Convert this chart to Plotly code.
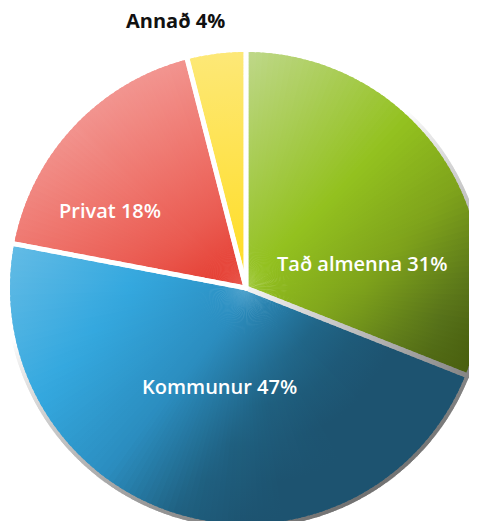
import numpy as np
import plotly.graph_objects as go

# ---- data ----
categories = ["Tað almenna", "Kommunur", "Privat", "Annað"]
shares = [31, 47, 18, 4]

# ---- styling (not data) ----
W, H = 477, 521
OFF = 8  # page body margin
CX, CY, R = 246, 288, 236
# gradient: direction vector in pixel space, stops of (t, colour) with t = dx*x + dy*y
GRAD = {
    "Tað almenna": ((1.0, 1.0), [(300, "#bfd88a"), (530, "#93c11f"), (650, "#7ea21b"), (760, "#57721a"), (820, "#4a600f")]),
    "Kommunur": ((0.775, 0.632), [(166, "#62bbe5"), (280, "#34a8df"), (380, "#2b8dbf"), (460, "#1f6080"), (520, "#1d5370"), (640, "#1d5370")]),
    "Privat": ((0.5, 0.87), [(140, "#f29590"), (220, "#ef7870"), (300, "#ea5a50"), (365, "#e4392d")]),
    "Annað": ((0.0, 1.0), [(50, "#fde878"), (290, "#ffdc1e")]),
}
LABEL_POS = {"Tað almenna": (362, 263), "Kommunur": (219, 386), "Privat": (110, 210), "Annað": (175, 20)}


def hex2rgb(h):
    h = h.lstrip("#")
    return np.array([int(h[i:i + 2], 16) for i in (0, 2, 4)], dtype=float)


def rgb2hex(c):
    c = np.clip(np.round(c), 0, 255).astype(int)
    return "#%02x%02x%02x" % tuple(c)


def colour_at(name, x, y):
    (dx, dy), stops = GRAD[name]
    t = dx * x + dy * y
    ts = [s[0] for s in stops]
    cs = [hex2rgb(s[1]) for s in stops]
    if t <= ts[0]:
        return rgb2hex(cs[0])
    if t >= ts[-1]:
        return rgb2hex(cs[-1])
    for i in range(len(ts) - 1):
        if ts[i] <= t <= ts[i + 1]:
            f = (t - ts[i]) / (ts[i + 1] - ts[i])
            return rgb2hex(cs[i] * (1 - f) + cs[i + 1] * f)


def pt(theta_deg, r):
    th = np.radians(theta_deg)
    return CX + r * np.sin(th), CY - r * np.cos(th)


fig = go.Figure()

# outer shadow rim
total = float(sum(shares))
rim_th = np.arange(0, 360, 0.4)
rim_x, rim_y, rim_c = [], [], []
for th in rim_th:
    x, y = pt(th, R + 1.5)
    w = (np.cos(np.radians(th - 150)) + 0.3) / 1.3
    w = max(0.0, min(1.0, w))
    g = 255 - (w ** 0.8) * 140
    rim_x.append(x)
    rim_y.append(y)
    rim_c.append(rgb2hex(np.array([g, g, g])))
fig.add_trace(go.Scatter(x=rim_x, y=rim_y, mode="markers",
                         marker=dict(size=5, color=rim_c, line=dict(width=0)),
                         hoverinfo="skip", showlegend=False))

# slices as many thin wedges, each with its own linear gradient
start = 0.0
bounds = []
for name, v in zip(categories, shares):
    span = v / total * 360.0
    a0, a1 = start, start + span
    bounds.append(a0)
    n = max(2, int(np.ceil(span / 1.5)))
    edges = np.linspace(a0, a1, n + 1)
    for i in range(n):
        lo = max(a0, edges[i] - 0.5)
        hi = min(a1, edges[i + 1] + 0.5)
        arc = np.linspace(lo, hi, 6)
        xs = [CX] + [pt(a, R)[0] for a in arc] + [CX]
        ys = [CY] + [pt(a, R)[1] for a in arc] + [CY]
        mid = np.radians((edges[i] + edges[i + 1]) / 2)
        ddx, ddy = np.sin(mid), -np.cos(mid)
        horiz = abs(ddx) >= abs(ddy)
        samples = np.linspace(0, 1, 7)
        coords, cols = [], []
        for s in samples:
            px, py = CX + s * R * ddx, CY + s * R * ddy
            coords.append(px if horiz else py)
            cols.append(colour_at(name, px, py))
        cmin, cmax = min(coords), max(coords)
        cs = sorted([((c - cmin) / (cmax - cmin), col) for c, col in zip(coords, cols)])
        cs[0] = (0.0, cs[0][1])
        cs[-1] = (1.0, cs[-1][1])
        fig.add_trace(go.Scatter(
            x=xs, y=ys, mode="lines", fill="toself",
            line=dict(width=0),
            fillgradient=dict(type="horizontal" if horiz else "vertical",
                              colorscale=[[c[0], c[1]] for c in cs],
                              start=cmin, stop=cmax),
            hoverinfo="skip", showlegend=False))
    start = a1

# separators between slices
for b in bounds:
    bx, by, bc = [], [], []
    for s in np.linspace(0, 1.01, 160):
        x, y = pt(b, s * R)
        bx.append(x)
        by.append(y)
        if abs(b - 111.6) < 1.0:
            g = 245 - 110 * s
        else:
            g = 255
        bc.append(rgb2hex(np.array([g, g, g])))
    fig.add_trace(go.Scatter(x=bx, y=by, mode="markers",
                             marker=dict(size=5, color=bc, line=dict(width=0)),
                             hoverinfo="skip", showlegend=False))

# labels
for name, v in zip(categories, shares):
    lx, ly = LABEL_POS[name]
    inside = name != "Annað"
    fig.add_annotation(x=lx, y=ly, xref="x", yref="y", showarrow=False,
                       text=f"{name} {v}%",
                       font=dict(family="Open Sans", size=20,
                                 color="#ffffff" if inside else "#111111",
                                 weight=600 if inside else 700))

fig.update_layout(
    width=W, height=H, margin=dict(l=0, r=0, t=0, b=0),
    paper_bgcolor="white", plot_bgcolor="white",
    xaxis=dict(range=[OFF, W + OFF], visible=False, fixedrange=True),
    yaxis=dict(range=[H + OFF, OFF], visible=False, fixedrange=True),
    showlegend=False,
)
fig.write_html("out.html")
